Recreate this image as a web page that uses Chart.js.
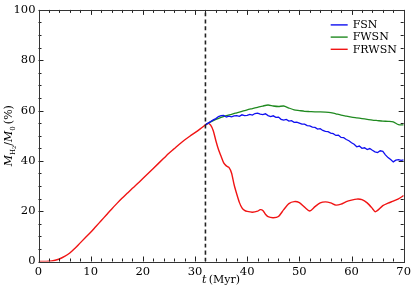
<!DOCTYPE html>
<html>
<head>
<meta charset="utf-8">
<script src="https://cdn.jsdelivr.net/npm/chart.js"></script>
<style>
  html, body { margin: 0; padding: 0; background: #fff; }
  #wrap { width: 415px; height: 291px; }
</style>
</head>
<body>
<div id="wrap"><canvas id="chart" width="415" height="291"></canvas></div>
<script>
// common growth phase (t in Myr, H2 mass fraction in %)
const riseTime = [0, 1, 2, 3, 4, 5, 6, 7, 8, 9, 10, 11, 12, 13, 14, 15, 16, 17, 18, 19, 20,
  21, 22, 23, 24, 25, 26, 27, 28, 29, 30, 31, 32];
const riseValues = [0, 0, 0.1, 0.4, 1.0, 2.0, 3.4, 5.3, 7.4, 9.5, 11.6, 13.9, 16.2, 18.5, 20.8, 23.0,
  25.1, 27.1, 29.1, 31.0, 33.0, 35.0, 37.0, 39.0, 41.0, 43.0, 44.8, 46.6, 48.3, 49.8, 51.2, 52.7, 54.3];

// after feedback switches on
const fsnTime = [32, 32.5, 33, 33.5, 34, 34.5, 35, 35.5, 36, 36.5, 37, 37.5, 38, 38.5, 39, 39.5,
  40, 40.5, 41, 41.5, 42, 42.5, 43, 43.5, 44, 44.5, 45, 45.5, 46, 46.5, 47, 47.5, 48, 48.5, 49, 49.5,
  50, 50.5, 51, 51.5, 52, 52.5, 53, 53.5, 54, 54.5, 55, 55.5, 56, 56.5, 57, 57.5, 58, 58.5, 59, 59.5,
  60, 60.5, 61, 61.5, 62, 62.5, 63, 63.5, 64, 64.5, 65, 65.5, 66, 66.5, 67, 67.5, 68, 68.5, 69, 69.5, 70];
const fsnValues = [54.3, 55.0, 55.6, 56.3, 56.8, 57.6, 58.0, 58.1, 57.4, 57.8, 57.5, 57.9, 58.0, 57.7,
  58.3, 58.0, 58.1, 58.5, 58.2, 58.8, 59.0, 58.6, 58.4, 58.7, 58.0, 57.6, 57.9, 57.3, 57.4, 56.5,
  56.2, 56.5, 55.8, 56.0, 55.3, 55.4, 55.0, 54.6, 54.6, 54.0, 53.9, 53.4, 53.3, 52.6, 52.8, 52.1,
  51.7, 51.6, 51.0, 50.8, 50.1, 50.2, 49.3, 49.2, 48.5, 48.0, 47.2, 46.6, 45.6, 45.9, 45.0, 45.2,
  44.5, 44.9, 44.2, 43.6, 43.3, 44.0, 43.8, 42.4, 41.3, 40.5, 39.6, 40.3, 40.5, 40.2, 40.4];
const fwsnTime = [32, 33, 34, 35, 36, 37, 38, 39, 40, 41, 42, 43, 44, 45, 46, 47, 48, 49, 50, 51,
  52, 53, 54, 55, 56, 57, 58, 59, 60, 61, 62, 63, 64, 65, 66, 67, 68, 69, 70];
const fwsnValues = [54.3, 55.5, 56.5, 57.3, 58.0, 58.5, 59.1, 59.7, 60.3, 60.8, 61.3, 61.8, 62.2, 61.8,
  61.6, 61.8, 61.0, 60.3, 60.0, 59.7, 59.6, 59.5, 59.5, 59.4, 59.2, 58.7, 58.2, 57.8, 57.4, 57.1,
  56.8, 56.5, 56.2, 56.0, 55.8, 55.7, 55.5, 54.4, 54.3];
const frwsnTime = [32, 32.5, 33, 33.5, 34, 34.5, 35, 35.5, 36, 36.5, 37, 37.5, 38, 38.5, 39, 39.5, 40,
  41, 42, 42.5, 43, 43.5, 44, 45, 46, 47, 48, 49, 50, 51, 52, 53, 54, 55, 56, 57, 58, 59, 60, 61,
  62, 63, 64, 64.5, 65, 66, 67, 68, 69, 70];
const frwsnValues = [54.3, 54.9, 54.2, 52.0, 48.0, 44.5, 41.8, 39.2, 38.0, 37.4, 35.2, 30.5, 26.8, 23.5,
  21.3, 20.3, 19.9, 19.6, 20.0, 20.6, 20.3, 18.8, 17.8, 17.4, 17.9, 20.6, 23.0, 23.8, 23.4, 21.6,
  20.1, 21.8, 23.3, 23.7, 23.3, 22.4, 22.8, 23.8, 24.4, 24.8, 24.6, 23.3, 21.1, 19.8, 20.3, 22.2,
  23.2, 24.0, 24.9, 26.2];

const xTicks = [0, 10, 20, 30, 40, 50, 60, 70];
const yTicks = [0, 20, 40, 60, 80, 100];
const feedbackTime = 32;

const serif = '"DejaVu Serif", "Liberation Serif", serif';

function toPoints(xs, ys) {
  return xs.map((x, i) => ({ x: x, y: ys[i] }));
}

// ticks pointing inward on all four sides, the frame, legend and axis titles
const framePlugin = {
  id: 'frame',
  afterDatasetsDraw(chart) {
    const ctx = chart.ctx;
    const a = chart.chartArea;
    const xs = chart.scales.x, ys = chart.scales.y;
    ctx.save();
    ctx.strokeStyle = '#222';
    ctx.lineWidth = 1;
    for (let v = xTicks[0]; v <= xTicks[xTicks.length - 1]; v += 2) {
      const len = xTicks.includes(v) ? 5 : 3;
      const px = Math.round(xs.getPixelForValue(v)) + 0.5;
      ctx.beginPath();
      ctx.moveTo(px, a.bottom); ctx.lineTo(px, a.bottom - len);
      ctx.moveTo(px, a.top); ctx.lineTo(px, a.top + len);
      ctx.stroke();
    }
    for (let v = yTicks[0]; v <= yTicks[yTicks.length - 1]; v += 5) {
      const len = yTicks.includes(v) ? 5 : 3;
      const py = Math.round(ys.getPixelForValue(v)) + 0.5;
      ctx.beginPath();
      ctx.moveTo(a.left, py); ctx.lineTo(a.left + len, py);
      ctx.moveTo(a.right, py); ctx.lineTo(a.right - len, py);
      ctx.stroke();
    }
    ctx.strokeStyle = '#333';
    ctx.strokeRect(Math.round(a.left) + 0.5, Math.round(a.top) + 0.5,
      Math.round(a.right - a.left), Math.round(a.bottom - a.top));

    // legend inside the top right corner
    ctx.font = '11px ' + serif;
    ctx.textBaseline = 'middle';
    ctx.textAlign = 'left';
    let row = 0;
    chart.data.datasets.forEach(ds => {
      if (ds.noLegend) return;
      const y = a.top + 15 + row * 12.2;
      ctx.strokeStyle = ds.borderColor;
      ctx.lineWidth = 1.4;
      ctx.beginPath();
      ctx.moveTo(a.right - 73, y); ctx.lineTo(a.right - 56, y);
      ctx.stroke();
      ctx.fillStyle = '#000';
      ctx.fillText(ds.label, a.right - 51, y + 0.5);
      row++;
    });

    // axis titles
    ctx.fillStyle = '#000';
    ctx.textBaseline = 'alphabetic';
    const cx = (a.left + a.right) / 2;
    const italic = 'italic 11px ' + serif, plain = '11px ' + serif;
    ctx.font = italic;
    const wt = ctx.measureText('t').width;
    ctx.font = plain;
    const wm = ctx.measureText('\u2009(Myr)').width;
    const x0 = cx - (wt + wm) / 2;
    ctx.font = italic; ctx.fillText('t', x0, 283);
    ctx.font = plain; ctx.fillText('\u2009(Myr)', x0 + wt, 283);

    const parts = [
      { t: 'M', f: italic, dy: 0 },
      { t: 'H', f: '7px ' + serif, dy: 2.5 },
      { t: '2', f: '5px ' + serif, dy: 4 },
      { t: '/', f: plain, dy: 0 },
      { t: 'M', f: italic, dy: 0 },
      { t: '0', f: '7px ' + serif, dy: 2.5 },
      { t: '\u2009(%)', f: plain, dy: 0 }
    ];
    let total = 0;
    parts.forEach(p => { ctx.font = p.f; p.w = ctx.measureText(p.t).width; total += p.w; });
    ctx.translate(12, (a.top + a.bottom) / 2);
    ctx.rotate(-Math.PI / 2);
    let px = -total / 2;
    parts.forEach(p => { ctx.font = p.f; ctx.fillText(p.t, px, p.dy); px += p.w; });
    ctx.restore();
  }
};

new Chart(document.getElementById('chart'), {
  type: 'line',
  data: {
    datasets: [
      {
        label: 'dash',
        noLegend: true,
        data: toPoints([feedbackTime, feedbackTime], [yTicks[0], yTicks[yTicks.length - 1]]),
        borderColor: '#222',
        borderWidth: 1.6,
        borderDash: [4, 3]
      },
      {
        label: 'FRWSN-rise',
        noLegend: true,
        data: toPoints(riseTime, riseValues),
        borderColor: '#f01414',
        borderWidth: 1.4,
        cubicInterpolationMode: 'monotone'
      },
      {
        label: 'FSN',
        data: toPoints(fsnTime, fsnValues),
        borderColor: '#1010f0',
        borderWidth: 1.3,
        tension: 0
      },
      {
        label: 'FWSN',
        data: toPoints(fwsnTime, fwsnValues),
        borderColor: '#208a20',
        borderWidth: 1.3
      },
      {
        label: 'FRWSN',
        data: toPoints(frwsnTime, frwsnValues),
        borderColor: '#f01414',
        borderWidth: 1.4
      }
    ]
  },
  options: {
    responsive: false,
    devicePixelRatio: 1,
    animation: false,
    events: [],
    layout: { padding: { top: 9, right: 11, left: 0, bottom: 0 } },
    elements: {
      point: { radius: 0 },
      line: { tension: 0.25, fill: false }
    },
    plugins: {
      legend: { display: false },
      tooltip: { enabled: false }
    },
    scales: {
      x: {
        type: 'linear',
        min: xTicks[0],
        max: xTicks[xTicks.length - 1],
        afterFit: s => { s.height = 29.5; },
        afterBuildTicks: s => { s.ticks = xTicks.map(v => ({ value: v })); },
        grid: { display: false, drawTicks: false },
        border: { display: false },
        ticks: { padding: 4, color: '#000', font: { family: serif, size: 11.5 } }
      },
      y: {
        min: yTicks[0],
        max: yTicks[yTicks.length - 1],
        afterFit: s => { s.width = 38.5; },
        afterBuildTicks: s => { s.ticks = yTicks.map(v => ({ value: v })); },
        grid: { display: false, drawTicks: false },
        border: { display: false },
        ticks: { padding: 3, color: '#000', font: { family: serif, size: 11.5 } }
      }
    }
  },
  plugins: [framePlugin]
});
</script>
</body>
</html>
